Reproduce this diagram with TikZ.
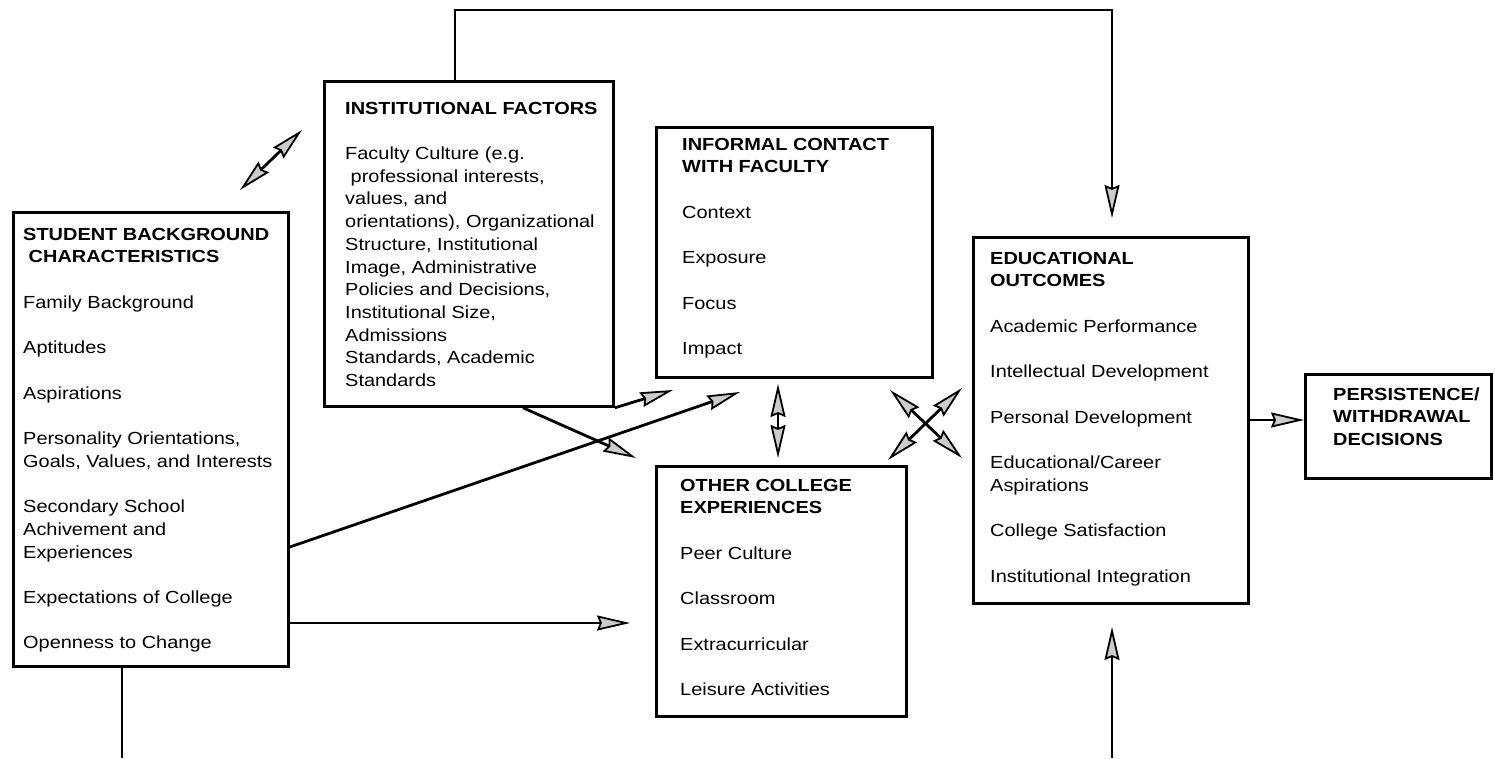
\documentclass[tikz,border=0pt]{standalone}
\usepackage{fontspec}
\setmainfont{Liberation Sans}[FakeStretch=1.14]
\usetikzlibrary{arrows.meta}
\begin{document}
\begin{tikzpicture}[x=1bp,y=-1bp,
  box/.style={draw, line width=2.8bp, rectangle, inner sep=0pt, anchor=north west},
  txt/.style={anchor=north west, inner sep=0pt, align=left, font=\fontsize{17.5bp}{22.7bp}\selectfont},
  tip/.tip={Stealth[length=33bp,width=15bp,inset=3bp,fill=gray!40,line width=1.8bp]},
  arr/.style={-tip, line width=2.8bp},
  darr/.style={tip-tip, line width=2.8bp},
  ln/.style={line width=2.8bp}]
\useasboundingbox (0,0) rectangle (1495,758);
% boxes
\node[box, minimum width=275bp, minimum height=454bp] (student) at (12,211) {};
\node[box, minimum width=289bp, minimum height=325bp] (inst) at (323,80) {};
\node[box, minimum width=276bp, minimum height=250bp] (informal) at (655,126) {};
\node[box, minimum width=250bp, minimum height=250bp] (other) at (655,465) {};
\node[box, minimum width=275bp, minimum height=366bp] (edu) at (972,236) {};
\node[box, minimum width=186bp, minimum height=104bp] (pers) at (1304,373) {};
% texts
\node[txt] (studenttxt) at (23,224.1) {\strut\textbf{STUDENT BACKGROUND}\\
\hspace*{5.5bp}\textbf{CHARACTERISTICS}\\[22.7bp]
Family Background\\[22.7bp]
Aptitudes\\[22.7bp]
Aspirations\\[22.7bp]
Personality Orientations,\\
Goals, Values, and Interests\\[22.7bp]
Secondary School\\
Achivement and\\
Experiences\\[22.7bp]
Expectations of College\\[22.7bp]
Openness to Change};
\node[txt] (insttxt) at (345,98.1) {\strut\textbf{INSTITUTIONAL FACTORS}\\[22.7bp]
Faculty Culture (e.g.\\
\hspace*{5.5bp}professional interests,\\
values, and\\
orientations), Organizational\\
Structure, Institutional\\
Image, Administrative\\
Policies and Decisions,\\
Institutional Size,\\
Admissions\\
Standards, Academic\\
Standards};
\node[txt] (informaltxt) at (682,134.1) {\strut\textbf{INFORMAL CONTACT}\\
\textbf{WITH FACULTY}\\[22.7bp]
Context\\[22.7bp]
Exposure\\[22.7bp]
Focus\\[22.7bp]
Impact};
\node[txt] (othertxt) at (680,475.1) {\strut\textbf{OTHER COLLEGE}\\
\textbf{EXPERIENCES}\\[22.7bp]
Peer Culture\\[22.7bp]
Classroom\\[22.7bp]
Extracurricular\\[22.7bp]
Leisure Activities};
\node[txt] (edutxt) at (990,248.1) {\strut\textbf{EDUCATIONAL}\\
\textbf{OUTCOMES}\\[22.7bp]
Academic Performance\\[22.7bp]
Intellectual Development\\[22.7bp]
Personal Development\\[22.7bp]
Educational/Career\\
Aspirations\\[22.7bp]
College Satisfaction\\[22.7bp]
Institutional Integration};
\node[txt] (perstxt) at (1333,384.1) {\strut\textbf{PERSISTENCE/}\\
\textbf{WITHDRAWAL}\\
\textbf{DECISIONS}};
% free-end coordinates
\coordinate (topL) at (455,10);
\coordinate (topR) at (1112,10);
\coordinate (edutop) at (1112,218);
\coordinate (botS) at (122,758);
\coordinate (botE) at (1112,758);
\coordinate (eduBot) at (1112,627);
\coordinate (sbA) at (240,190);
\coordinate (sbB) at (302,130);
\coordinate (tInf1) at (673,390);
\coordinate (tInf2) at (740,392);
\coordinate (tOth1) at (636,458);
\coordinate (tOth2) at (630,623);
\coordinate (vA) at (778,384);
\coordinate (vB) at (778,458);
\coordinate (xA) at (890,390);
\coordinate (xB) at (962,458);
\coordinate (xC) at (962,388);
\coordinate (xD) at (888,460);
% connectors
\draw[arr] (inst.north -| topL) -- (topL) -- (topR) -- (edutop);
\draw[arr] (botE) -- (eduBot);
\draw[ln] (student.south -| botS) -- (botS);
\draw[darr] (sbA) -- (sbB);
\draw[arr] (student.east |- tOth2) -- (tOth2);
\draw[arr] (student.east |- 0,547) -- (tInf2);
\draw[arr] (inst.south east) -- (tInf1);
\draw[arr] (inst.south -| 523,0) -- (tOth1);
\draw[darr] (vA) -- (vB);
\draw[darr] (xA) -- (xB);
\draw[darr] (xC) -- (xD);
\draw[arr] (edu.east |- 0,420) -- (pers.west |- 0,420);
\end{tikzpicture}
\end{document}
